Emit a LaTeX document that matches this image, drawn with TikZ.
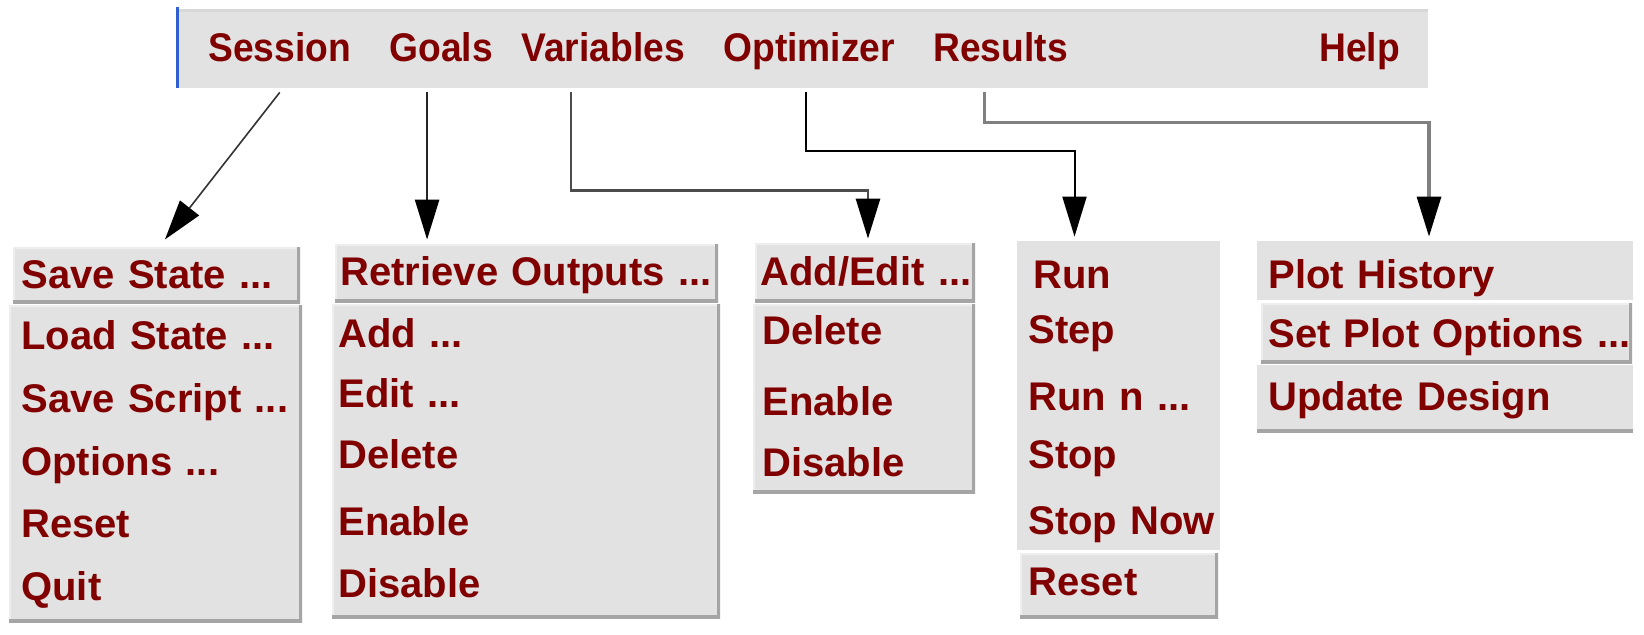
\documentclass[tikz,border=0pt]{standalone}
\usepackage{fontspec}
\setsansfont{Liberation Sans}
\newfontfamily\barfont{Liberation Sans}[FakeStretch=0.93]
\usepackage{tikz}
\usetikzlibrary{positioning, arrows.meta}
\definecolor{menured}{RGB}{128,0,0}
\definecolor{panegray}{RGB}{226,226,226}
\definecolor{stripgray}{RGB}{216,216,216}
\definecolor{edgegray}{RGB}{165,165,165}
\definecolor{lightedge}{RGB}{238,238,238}
\definecolor{barblue}{RGB}{48,96,208}
\tikzset{
x=0.5pt, y=-0.5pt, % one unit is one pixel of the screenshot, y runs downwards
>={Triangle[width=12pt, length=20pt, color=black, fill=black]}, % long black arrow heads
node distance=31pt, % baseline to baseline inside a menu
head/.style={font=\barfont\bfseries\fontsize{20}{24}\selectfont, text=menured, inner sep=0pt, anchor=base west}, % titles in the menu bar
entry/.style={font=\sffamily\bfseries\fontsize{20}{24}\selectfont, text=menured, inner sep=0pt, text height=15pt, text depth=5pt, align=left}, % menu items
flat/.style={fill=panegray, inner sep=0pt}, % plain menu pane
menubar/.style={flat, path picture={
    \draw[stripgray, line width=3pt] (path picture bounding box.north west) -- (path picture bounding box.north east);}}, % bar with a darker top
raised/.style={flat, path picture={
    \draw[lightedge, line width=2pt] (path picture bounding box.south west) -- (path picture bounding box.north west) -- (path picture bounding box.north east);
    \draw[edgegray, line width=3pt] (path picture bounding box.south west) -- (path picture bounding box.south east) -- (path picture bounding box.north east);}}, % pane with a bevel
ledge/.style={flat, path picture={
    \draw[edgegray, line width=3pt] (path picture bounding box.south west) -- (path picture bounding box.south east);}}, % pane with a bottom edge only
link/.style={->, shorten >=2pt}, % from a title down to its menu
}
\begin{document}
\begin{tikzpicture}
\path[use as bounding box, fill=white] (0,0) rectangle (1644,634);

% menu bar
\node[menubar, minimum width=625pt, minimum height=39.5pt] (bar) at (803,48.5) {};
\draw[barblue, line width=1.5pt] ([yshift=1pt]bar.north west) -- (bar.south west);
\node[head] (session) at (208,61) {Session};
\node[head] (goals) at (389,61) {Goals};
\node[head] (variables) at (521,61) {Variables};
\node[head] (optimizer) at (723,61) {Optimizer};
\node[head] (results) at (933,61) {Results};
\node[head] (help) at (1319,61) {Help};

% panes
\node[raised, minimum width=143.5pt, minimum height=28pt] (savebox) at (156.5,275) {};
\node[raised, minimum width=146.5pt, minimum height=158.5pt] (sessbox) at (155.5,463.5) {};
\node[raised, minimum width=191.5pt, minimum height=29pt] (retrbox) at (526.5,273) {};
\node[raised, minimum width=194pt, minimum height=157pt] (goalbox) at (526,461) {};
\node[raised, minimum width=110pt, minimum height=29.5pt] (addbox) at (865,272.5) {};
\node[raised, minimum width=111pt, minimum height=94.5pt] (varbox) at (864,398.5) {};
\node[flat, minimum width=101.5pt, minimum height=154.5pt] (optbox) at (1118.5,395.5) {};
\node[raised, minimum width=99pt, minimum height=32.5pt] (resetbox) at (1119,585.5) {};
\node[flat, minimum width=188pt, minimum height=29.5pt] (histbox) at (1445,270.5) {};
\node[raised, minimum width=185.5pt, minimum height=30pt] (setbox) at (1446.5,333) {};
\node[ledge, minimum width=188pt, minimum height=33.5pt] (updbox) at (1445,398.5) {};

% Session
\begin{scope}[entry/.append style={text width=150pt}]
\node[entry, anchor=base west] (savest) at (21,288) {Save State ...};
\node[entry, anchor=base west] (loadst) at (21,349) {Load State ...};
\node[entry, node distance=31.5pt, below of=loadst] (savescr) {Save Script ...};
\node[entry, node distance=31.5pt, below of=savescr] (opts) {Options ...};
\node[entry, below of=opts] (sreset) {Reset};
\node[entry, node distance=31.5pt, below of=sreset] (quit) {Quit};
\end{scope}

% Goals
\begin{scope}[entry/.append style={text width=210pt}]
\node[entry, anchor=base west] (retr) at (340,285) {Retrieve Outputs ...};
\node[entry, anchor=base west] (gadd) at (338,347) {Add ...};
\node[entry, node distance=30pt, below of=gadd] (gedit) {Edit ...};
\node[entry, node distance=30.5pt, below of=gedit] (gdel) {Delete};
\node[entry, node distance=33.5pt, below of=gdel] (gena) {Enable};
\node[entry, below of=gena] (gdis) {Disable};
\end{scope}

% Variables
\begin{scope}[entry/.append style={text width=125pt}]
\node[entry, anchor=base west] (addedit) at (760,285) {Add/Edit ...};
\node[entry, anchor=base west] (vdel) at (762,344) {Delete};
\node[entry, node distance=35.5pt, below of=vdel] (vena) {Enable};
\node[entry, node distance=30.5pt, below of=vena] (vdis) {Disable};
\end{scope}

% Optimizer
\begin{scope}[entry/.append style={text width=100pt}]
\node[entry, anchor=base west] (orun) at (1033,288) {Run};
\node[entry, node distance=27.5pt, below of=orun, xshift=-2.5pt] (ostep) {Step};
\node[entry, node distance=33.5pt, below of=ostep] (orunn) {Run n ...};
\node[entry, node distance=29pt, below of=orunn] (ostop) {Stop};
\node[entry, node distance=33pt, below of=ostop] (ostopnow) {Stop Now};
\node[entry, node distance=30.5pt, below of=ostopnow] (oreset) {Reset};
\end{scope}

% Results
\begin{scope}[entry/.append style={text width=210pt}]
\node[entry, anchor=base west] (hist) at (1268,288) {Plot History};
\node[entry, node distance=29.5pt, below of=hist] (setopt) {Set Plot Options ...};
\node[entry, node distance=31.5pt, below of=setopt] (update) {Update Design};
\end{scope}

% links from the bar
\draw[link, draw=black!80, line width=0.8pt] ([yshift=-2pt]session.south |- bar.south) -- ([xshift=3pt, yshift=2pt]savebox.north);
\draw[link, draw=black!85, line width=1.3pt] ([xshift=-7pt, yshift=-2pt]goals.south |- bar.south) -- ([xshift=-7pt]goals.south |- retrbox.north);
\draw[link, draw=black!70, line width=1.4pt] ([xshift=-16pt, yshift=-2pt]variables.south |- bar.south) -- ++(0,98) -| ([xshift=1.5pt]addbox.north);
\draw[link, draw=black, line width=1pt] ([xshift=-1.5pt, yshift=-2pt]optimizer.south |- bar.south) -- ++(0,59) -| ([xshift=-22pt]optbox.north);
\draw[link, draw=black!50, line width=1.6pt] ([xshift=-8pt, yshift=-2pt]results.south |- bar.south) -- ++(0,30) -| ([xshift=-8pt]histbox.north);
\end{tikzpicture}
\end{document}
